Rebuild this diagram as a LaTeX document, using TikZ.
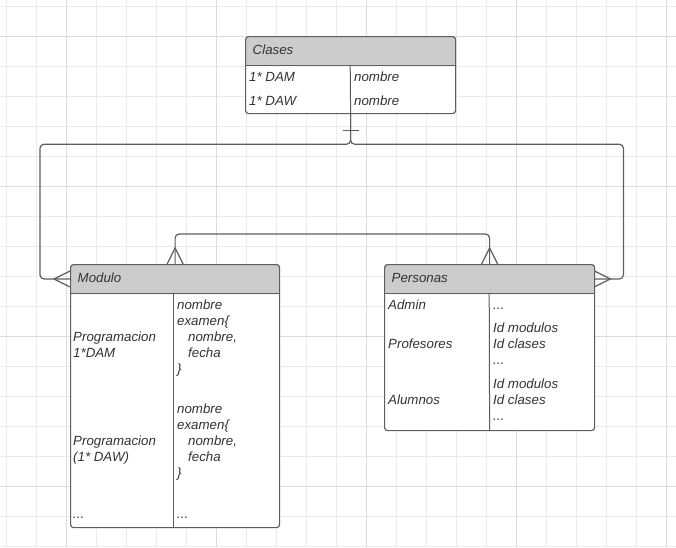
\documentclass[tikz,border=0pt]{standalone}
\usepackage{fontspec}
\setmainfont{Liberation Sans}
\usepackage{xcolor}
\usepackage{tikz}

\definecolor{headgray}{HTML}{CCCCCC}
\definecolor{linegray}{HTML}{5E5E5E}
\definecolor{textgray}{HTML}{333333}
\definecolor{gridminor}{HTML}{EBEBEB}
\definecolor{gridmajor}{HTML}{DCDCDC}

\newcommand\cellfont{\fontsize{13.3}{16}\selectfont\itshape}

\tikzset{
  table/.style={draw=linegray, line width=1.2pt, fill=white, rounded corners=3pt,
    inner sep=0pt, anchor=north west,
    path picture={\fill[headgray] (path picture bounding box.north west)
      rectangle ([yshift=-29.5pt]path picture bounding box.north east);}},
  headtext/.style={anchor=north west, align=left, inner xsep=7.5pt, inner ysep=0pt,
    minimum height=29.5pt, text height=10pt, text depth=3pt, font=\cellfont, text=textgray},
  cell/.style={anchor=base west, align=left, inner sep=0pt, font=\cellfont, text=textgray},
  conn/.style={draw=linegray, line width=1.2pt},
  rule/.style={draw=linegray, line width=1pt},
}

\begin{document}
\begin{tikzpicture}[x=1pt, y=-1pt]
             \useasboundingbox (0,0) rectangle (676,547);

             % grid
             \foreach \gx in {6,36,...,666} \draw[gridminor, line width=.8pt] (\gx,0) -- (\gx,547);
             \foreach \gy in {6,36,...,546} \draw[gridminor, line width=.8pt] (0,\gy) -- (676,\gy);
             \foreach \gx in {66,216,366,516,666} \draw[gridmajor, line width=.8pt] (\gx,0) -- (\gx,547);
             \foreach \gy in {36,186,336,486} \draw[gridmajor, line width=.8pt] (0,\gy) -- (676,\gy);

             % Clases
             \node[table, minimum width=210pt, minimum height=77pt] (clases) at (245,36) {};
             \node[headtext, text width=195pt] (claseshead) at (clases.north west) {Clases};
             \draw[rule] (claseshead.south west) -- (claseshead.south east);
             \draw[rule] (claseshead.south) -- (clases.south);
             \node[cell] (dam) at (249,81) {1* DAM};
             \node[cell] (daw) at (249,105) {1* DAW};
             \node[cell] (damname) at (354,81) {nombre};
             \node[cell] (dawname) at (354,105) {nombre};

             % Modulo (multi-line cells sit on their last baseline)
             \node[table, minimum width=209pt, minimum height=263pt] (modulo) at (70,264) {};
             \node[headtext, text width=194pt] (modulohead) at (modulo.north west) {Modulo};
             \draw[rule] (modulohead.south west) -- (modulohead.south east);
             \draw[rule] ([xshift=103pt]modulohead.south west) -- ([xshift=103pt]modulo.south west);
             \node[cell] (progdam) at (73,357) {Programacion\\1*DAM};
             \node[cell] (progdaw) at (73,461) {Programacion\\(1* DAW)};
             \node[cell] (modmore) at (73,518) {...};
             \node[cell] (damfields) at (177,373)
               {nombre\\examen\{\\\hspace*{11pt}nombre,\\\hspace*{11pt}fecha\\\}};
             \node[cell] (dawfields) at (177,477)
               {nombre\\examen\{\\\hspace*{11pt}nombre,\\\hspace*{11pt}fecha\\\}};
             \node[cell] (fieldmore) at (177,518) {...};

             % Personas
             \node[table, minimum width=210pt, minimum height=166pt] (personas) at (384,264) {};
             \node[headtext, text width=195pt] (personashead) at (personas.north west) {Personas};
             \draw[rule] (personashead.south west) -- (personashead.south east);
             \draw[rule] (personashead.south) -- (personas.south);
             \node[cell] (admin) at (388,309) {Admin};
             \node[cell] (profes) at (388,348) {Profesores};
             \node[cell] (alumnos) at (388,404) {Alumnos};
             \node[cell] (adminfields) at (493,309) {...};
             \node[cell] (profesfields) at (493,364) {Id modulos\\Id clases\\...};
             \node[cell] (alumnosfields) at (493,420) {Id modulos\\Id clases\\...};

             % connectors
             \draw[conn, rounded corners=4pt] (clases.south) -- ++(0,30) -| ([xshift=-30pt]modulohead.west) -- (modulohead.west);
             \draw[conn, rounded corners=4pt] (clases.south) -- ++(0,30) -| ([xshift=29pt]personashead.east) -- (personashead.east);
             \draw[conn, rounded corners=4pt] (modulo.north) -- ++(0,-30) -| (personas.north);
             \draw[conn] ([xshift=-8pt,yshift=-16pt]clases.south) -- ([xshift=8pt,yshift=-16pt]clases.south);
             \draw[conn] ([yshift=8pt]modulohead.west) -- ([xshift=-16pt]modulohead.west) -- ([yshift=-8pt]modulohead.west);
             \draw[conn] ([yshift=8pt]personashead.east) -- ([xshift=16pt]personashead.east) -- ([yshift=-8pt]personashead.east);
             \draw[conn] ([xshift=-8pt]modulo.north) -- ([yshift=16pt]modulo.north) -- ([xshift=8pt]modulo.north);
             \draw[conn] ([xshift=-8pt]personas.north) -- ([yshift=16pt]personas.north) -- ([xshift=8pt]personas.north);
             \end{tikzpicture}
\end{document}
